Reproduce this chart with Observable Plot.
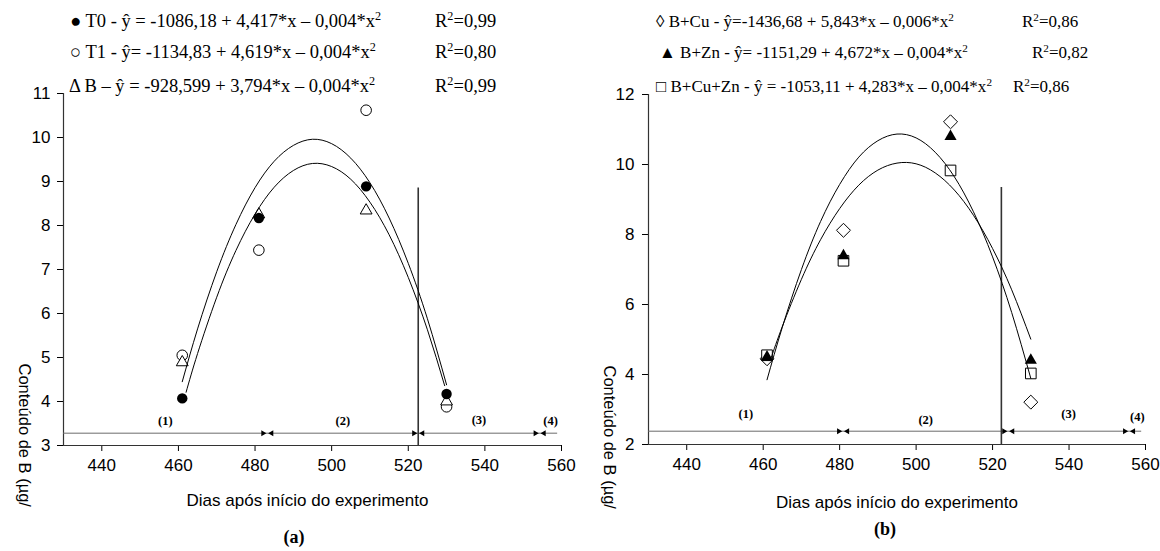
<!DOCTYPE html>
<html>
<head>
<meta charset="utf-8">
<script src="https://cdn.jsdelivr.net/npm/d3@7"></script>
<script src="https://cdn.jsdelivr.net/npm/@observablehq/plot@0.6"></script>
<style>
  html, body { margin: 0; padding: 0; background: #fff; }
  body { width: 1160px; height: 551px; overflow: hidden; position: relative; }
  .panel { position: absolute; top: 0; width: 580px; height: 551px; }
  .panel svg { position: absolute; left: 0; top: 0; overflow: visible; }
  .leg { position: absolute; font-family: "Liberation Serif", "Times New Roman", serif;
         line-height: 20px; white-space: nowrap; color: #000; }
  .leg .sq { font-size: 0.66em; position: relative; top: -0.55em; line-height: 0; }
  .cap { position: absolute; font-family: "Liberation Serif", "Times New Roman", serif; font-weight: bold;
         font-size: 18px; line-height: 20px; color: #000; transform: translateX(-50%); }
</style>
</head>
<body>
<div id="panelA" class="panel" style="left:0px"></div>
<div id="panelB" class="panel" style="left:580px"></div>
<script>
// Sampling days (days after the start of the experiment)
const days = [461, 481, 509, 530];

// (a) Boron content, µg/g
const t0 = [4.07, 8.17, 8.89, 4.17];
const t1 = [5.05, 7.44, 10.62, 3.88];
const bOnly = [4.89, 8.25, 8.34, 4.0];

// (b) Boron content, µg/g
const bCu = [4.45, 8.12, 11.22, 3.21];
const bZn = [4.5, 7.39, 10.8, 4.41];
const bCuZn = [4.55, 7.25, 9.83, 4.03];

// Fitted quadratic curves, sampled along the day axis
const fitDaysA1 = [461, 465, 470, 475, 480, 485, 490, 495, 500, 505, 510, 515, 520, 525, 530];
const fitA1 = [4.45, 5.65, 6.95, 8.02, 8.86, 9.46, 9.82, 9.96, 9.86, 9.53, 8.97, 8.17, 7.14, 5.88, 4.38];
const fitDaysA2 = [462, 465, 470, 475, 480, 485, 490, 495, 500, 505, 510, 515, 520, 525, 529.5];
const fitA2 = [4.21, 5.09, 6.37, 7.43, 8.26, 8.87, 9.25, 9.41, 9.34, 9.05, 8.53, 7.79, 6.82, 5.63, 4.36];
const fitDaysB1 = [461, 465, 470, 475, 480, 485, 490, 495, 500, 505, 510, 515, 520, 525, 530];
const fitB1 = [3.85, 5.35, 7.0, 8.37, 9.43, 10.21, 10.68, 10.87, 10.76, 10.35, 9.65, 8.65, 7.36, 5.77, 3.89];
const fitDaysB2 = [462, 465, 470, 475, 480, 485, 490, 495, 500, 505, 510, 515, 520, 525, 530];
const fitB2 = [4.45, 5.37, 6.72, 7.85, 8.74, 9.41, 9.84, 10.04, 10.02, 9.76, 9.27, 8.55, 7.6, 6.42, 5.01];

// Phase boundaries (days) and stage marker
const phaseLabels = ["(1)", "(2)", "(3)", "(4)"];
const phaseBoundsA = [483.2, 522.6, 554.3];
const phaseBoundsB = [480.9, 524.1, 555.7];
const phaseEnd = 559;
const stageDayA = 522.6;
const stageDayB = 522.3;

// Axis ticks
const xTicks = [440, 460, 480, 500, 520, 540, 560];
const yTicksA = [3, 4, 5, 6, 7, 8, 9, 10, 11];
const yTicksB = [2, 4, 6, 8, 10, 12];

// Legend texts
const legendA = ["● T0 - ŷ = -1086,18 + 4,417*x – 0,004*x²",
                 "○ T1 - ŷ= -1134,83 + 4,619*x – 0,004*x²",
                 "Δ B – ŷ = -928,599 + 3,794*x – 0,004*x²"];
const r2A = ["R²=0,99", "R²=0,80", "R²=0,99"];
const legendB = ["◊ B+Cu - ŷ=-1436,68 + 5,843*x – 0,006*x²",
                 "▲ B+Zn - ŷ= -1151,29 + 4,672*x – 0,004*x²",
                 "□ B+Cu+Zn - ŷ = -1053,11 + 4,283*x – 0,004*x²"];
const r2B = ["R²=0,86", "R²=0,82", "R²=0,86"];

const xTitle = "Dias após início do experimento";
const yTitle = "Conteúdo de B (µg/";

const sans = "Liberation Sans, Arial, sans-serif";
const serif = "Liberation Serif, Times New Roman, serif";

function series(values, xs) {
  return values.map((v, i) => ({day: xs[i], value: v}));
}

function phaseMarks(bounds, level, tagLevels) {
  const edges = [430, ...bounds, 560];
  const mids = phaseLabels.map((d, i) => (edges[i] + edges[i + 1]) / 2);
  return [
    Plot.ruleY([level], {x1: 430, x2: phaseEnd, stroke: "#6b6b6b", strokeWidth: 1}),
    Plot.dot(bounds, {x: d => d, y: () => level, symbol: "triangle", r: 2.2, rotate: 90, dx: -4.3, fill: "#000", stroke: "none"}),
    Plot.dot(bounds, {x: d => d, y: () => level, symbol: "triangle", r: 2.2, rotate: -90, dx: 4.3, fill: "#000", stroke: "none"}),
    Plot.text(phaseLabels, {x: (d, i) => mids[i], y: (d, i) => tagLevels[i], text: d => d,
      fontFamily: serif, fontWeight: "bold", fontSize: 12.5, fill: "#000"})
  ];
}

// superscript the squared exponent in the equation texts
function legendHTML(t) {
  return t.replace(/²/g, '<span class="sq">2</span>');
}

function drawPanel(opts) {
  const {el, yDomain, yTicks, ml, mr, mt, mb, marks, tickPadY, xTitleDx, xTitleDy, yTitleDx, yTitleDy,
         legend, r2, legX, r2X, legSize, tops, cap, capX, capY} = opts;
  const plot = Plot.plot({
    width: 580,
    height: 515,
    marginLeft: ml, marginRight: mr, marginTop: mt, marginBottom: mb,
    style: {fontFamily: sans, fontSize: "17px", color: "#000", background: "transparent"},
    x: {domain: [430, 560], ticks: xTicks, tickSize: 6, tickPadding: 7, label: null, tickFormat: d => String(d)},
    y: {domain: yDomain, ticks: yTicks, tickSize: 6, tickPadding: tickPadY, label: null, tickFormat: d => String(d)},
    marks: [
      Plot.ruleX([430], {y1: yDomain[0], y2: yDomain[1], stroke: "#333", strokeWidth: 1.2}),
      Plot.ruleY([yDomain[0]], {x1: 430, x2: 560, stroke: "#333", strokeWidth: 1.2}),
      ...marks,
      Plot.text([xTitle], {frameAnchor: "bottom", dx: xTitleDx, dy: xTitleDy, fontSize: 17, fontFamily: sans, fill: "#000"}),
      Plot.text([yTitle], {frameAnchor: "bottom-left", rotate: 90, textAnchor: "start", dx: yTitleDx, dy: yTitleDy,
        fontSize: 16.5, fontFamily: sans, fill: "#000"})
    ]
  });
  el.appendChild(plot);

  // equation legend above the plot
  legend.forEach((t, i) => {
    const d = document.createElement("div");
    d.className = "leg";
    d.style.fontSize = legSize + "px";
    d.style.left = legX[i] + "px";
    d.style.top = tops[i] + "px";
    d.innerHTML = legendHTML(t);
    el.appendChild(d);
    const r = document.createElement("div");
    r.className = "leg";
    r.style.fontSize = legSize + "px";
    r.style.left = r2X[i] + "px";
    r.style.top = tops[i] + "px";
    r.innerHTML = legendHTML(r2[i]);
    el.appendChild(r);
  });

  // panel letter below the plot
  const c = document.createElement("div");
  c.className = "cap";
  c.style.left = capX + "px";
  c.style.top = capY + "px";
  c.textContent = cap;
  el.appendChild(c);
}

// Panel (a)
drawPanel({
  el: document.getElementById("panelA"),
  yDomain: [3, 11], yTicks: yTicksA,
  ml: 63, mr: 19, mt: 93, mb: 70, tickPadY: 7,
  xTitleDx: -5, xTitleDy: 60, yTitleDx: -45, yTitleDy: -82,
  legend: legendA, r2: r2A, legX: [70, 70, 69], r2X: [435, 435, 435], legSize: 18.5, tops: [11, 42, 76],
  cap: "(a)", capX: 294, capY: 527,
  marks: [
    ...phaseMarks(phaseBoundsA, 3.28, [3.55, 3.55, 3.58, 3.55]),
    Plot.ruleX([stageDayA], {y1: 3, y2: 8.85, stroke: "#333", strokeWidth: 1.6}),
    Plot.dot(series(t1, days), {x: "day", y: "value", r: 5.3, symbol: "circle", fill: "#fff", stroke: "#000", strokeWidth: 1}),
    Plot.dot(series(bOnly, days), {x: "day", y: "value", r: 4.4, symbol: "triangle", fill: "#fff", stroke: "#000", strokeWidth: 1}),
    Plot.dot(series(t0, days), {x: "day", y: "value", r: 5.2, symbol: "circle", fill: "#000", stroke: "none"}),
    Plot.line(series(fitA1, fitDaysA1), {x: "day", y: "value", curve: "natural", stroke: "#000", strokeWidth: 1}),
    Plot.line(series(fitA2, fitDaysA2), {x: "day", y: "value", curve: "natural", stroke: "#000", strokeWidth: 1})
  ]
});

// Panel (b)
drawPanel({
  el: document.getElementById("panelB"),
  yDomain: [2, 12], yTicks: yTicksB,
  ml: 68, mr: 15, mt: 94, mb: 71, tickPadY: 8,
  xTitleDx: 0, xTitleDy: 63, yTitleDx: -45, yTitleDy: -79,
  legend: legendB, r2: r2B, legX: [76, 79, 76], r2X: [442, 452, 433], legSize: 17, tops: [12, 43, 77],
  cap: "(b)", capX: 305, capY: 519,
  marks: [
    ...phaseMarks(phaseBoundsB, 2.38, [2.86, 2.69, 2.86, 2.79]),
    Plot.ruleX([stageDayB], {y1: 2, y2: 9.34, stroke: "#333", strokeWidth: 1.6}),
    Plot.dot(series(bCu, days), {x: "day", y: "value", r: 6.3, symbol: "diamond2", fill: "#fff", stroke: "#000", strokeWidth: 1}),
    Plot.dot(series(bCuZn, days), {x: "day", y: "value", r: 6.0, symbol: "square", fill: "#fff", stroke: "#000", strokeWidth: 1}),
    Plot.dot(series(bZn, days), {x: "day", y: "value", r: 4.5, symbol: "triangle", fill: "#000", stroke: "none"}),
    Plot.line(series(fitB1, fitDaysB1), {x: "day", y: "value", curve: "natural", stroke: "#000", strokeWidth: 1}),
    Plot.line(series(fitB2, fitDaysB2), {x: "day", y: "value", curve: "natural", stroke: "#000", strokeWidth: 1})
  ]
});
</script>
</body>
</html>
